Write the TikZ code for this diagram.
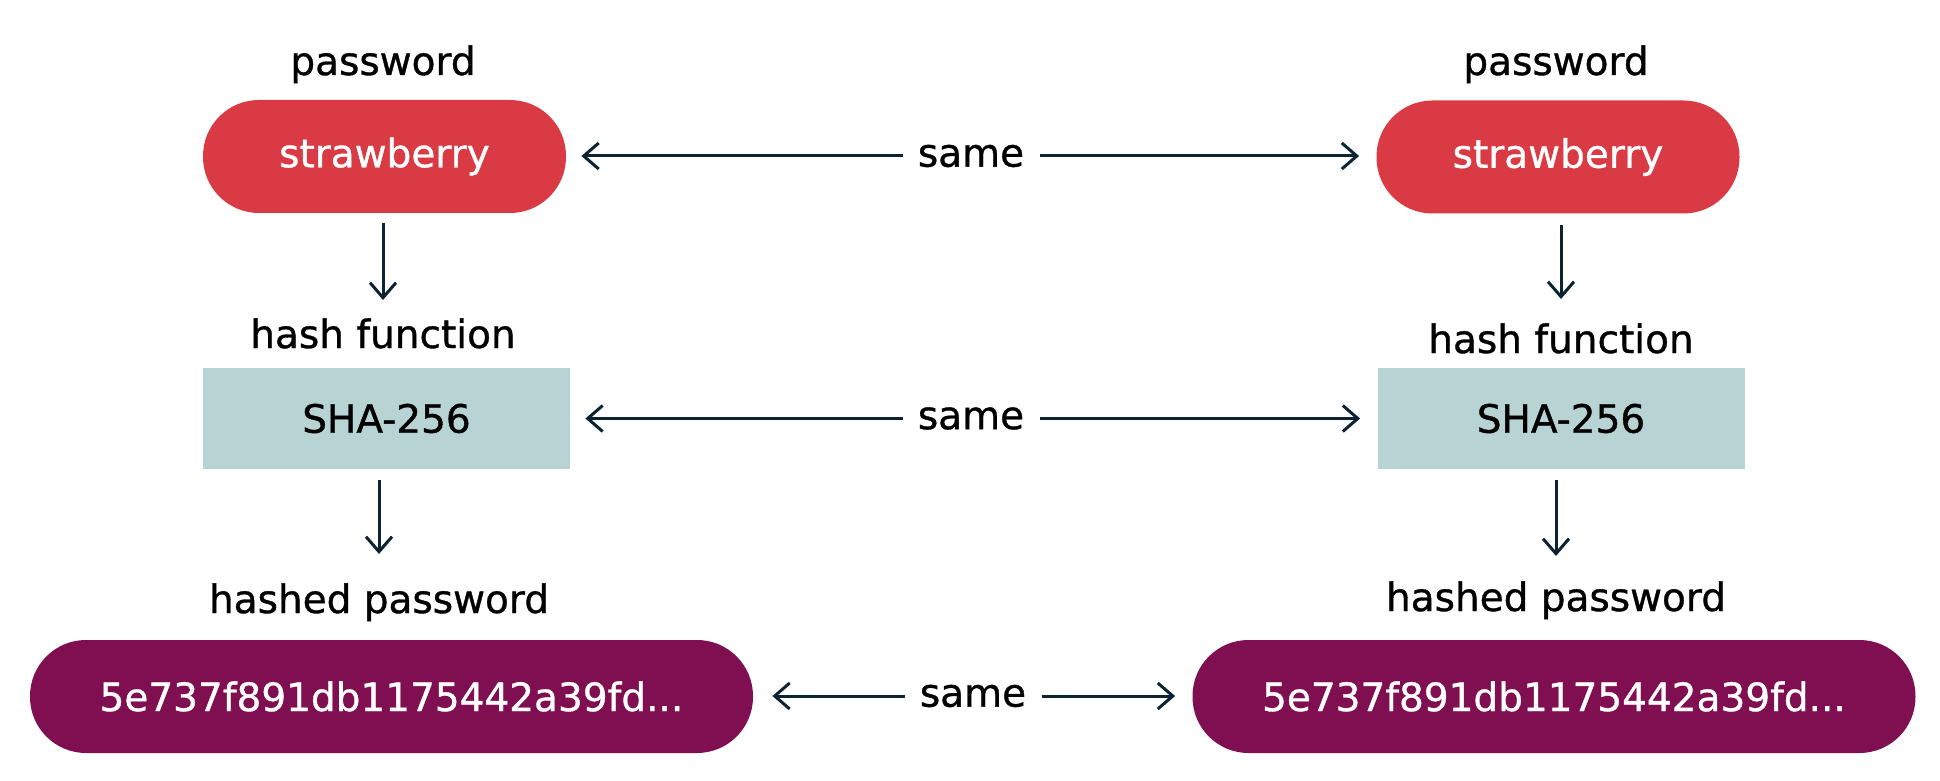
\documentclass[tikz,border=0pt]{standalone}
\usepackage{fontspec}
\setmainfont[FakeBold=0.9]{DejaVu Sans}
\usetikzlibrary{arrows.meta}
\definecolor{berry}{HTML}{DA3A43}
\definecolor{plum}{HTML}{7F0F50}
\definecolor{mist}{HTML}{B7D3D3}
\definecolor{ink}{HTML}{0B2333}

\begin{document}
\begin{tikzpicture}[x=0.5pt,y=-0.5pt,
  every node/.style={font=\fontsize{19.5}{24}\selectfont},
  pill/.style={rounded corners=28pt,minimum height=56.5pt,text=white,inner sep=0pt},
  hashbox/.style={fill=mist,minimum width=183.5pt,minimum height=50.5pt,inner sep=0pt},
  lbl/.style={inner sep=0pt},
  arr/.style={draw=ink,line width=1.5pt,-{Straight Barb[length=7.5pt,width=13pt]}}]
\useasboundingbox (0,0) rectangle (1940,781);
\node [pill,fill=berry,minimum width=181.5pt] (pwL) at (384.5,156.5) {strawberry};
\node [pill,fill=berry,minimum width=181.5pt] (pwR) at (1558,157) {strawberry};
\node [hashbox] (shaL) at (386.5,418.5) {SHA-256};
\node [hashbox] (shaR) at (1561,418.5) {SHA-256};
\node [pill,fill=plum,minimum width=361.5pt] (hpL) at (391.5,696.5) {5e737f891db1175442a39fd...};
\node [pill,fill=plum,minimum width=361.5pt] (hpR) at (1554,696.5) {5e737f891db1175442a39fd...};
\node [lbl,anchor=base] (pwlabL) at (383,75) {password};
\node [lbl,anchor=base] (pwlabR) at (1556,75) {password};
\node [lbl,anchor=base] (hflabL) at (383,348) {hash function};
\node [lbl,anchor=base] (hflabR) at (1561,353) {hash function};
\node [lbl,anchor=base] (hplabL) at (379,613) {hashed password};
\node [lbl,anchor=base] (hplabR) at (1556,611) {hashed password};
\node [inner xsep=7.5pt,inner ysep=0pt] (same1) at (971,156) {same};
\node [inner xsep=7.5pt,inner ysep=0pt] (same2) at (971,418.5) {same};
\node [inner xsep=7.5pt,inner ysep=0pt] (same3) at (973,696) {same};
\draw [arr,shorten >=7.5pt] (same1.west) -- (same1.west -| pwL.east);
\draw [arr,shorten >=8.5pt] (same1.east) -- (same1.east -| pwR.west);
\draw [arr,shorten >=7.5pt] (same2.west) -- (same2.west -| shaL.east);
\draw [arr,shorten >=8.5pt] (same2.east) -- (same2.east -| shaR.west);
\draw [arr,shorten >=9.5pt] (same3.west) -- (same3.west -| hpL.east);
\draw [arr,shorten >=8.5pt] (same3.east) -- (same3.east -| hpR.west);
\draw [arr,shorten <=5pt,shorten >=9pt] (pwL.south -| hflabL) -- (hflabL.north);
\draw [arr,shorten <=5.5pt,shorten >=12pt] (pwR.south -| hflabR) -- (hflabR.north);
\draw [arr,shorten <=5.5pt,shorten >=14.5pt] (shaL.south -| hplabL) -- (hplabL.north);
\draw [arr,shorten <=5.5pt,shorten >=12.5pt] (shaR.south -| hplabR) -- (hplabR.north);
\end{tikzpicture}
\end{document}
